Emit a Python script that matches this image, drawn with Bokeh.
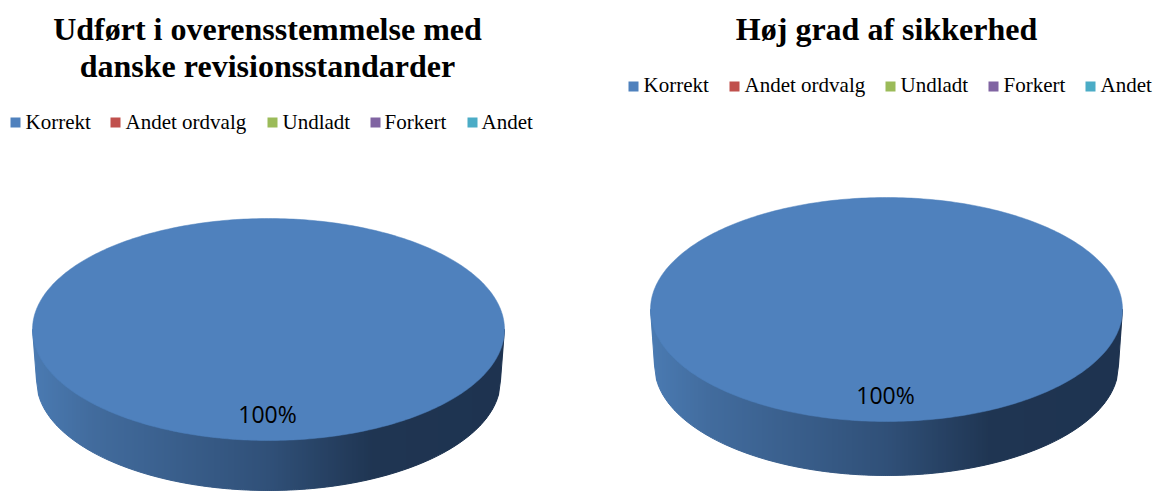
import numpy as np
from bokeh.core.properties import value
from bokeh.embed import file_html
from bokeh.layouts import row
from bokeh.models import Range1d
from bokeh.plotting import figure
from bokeh.resources import INLINE

categories = ["Korrekt", "Andet ordvalg", "Undladt", "Forkert", "Andet"]
values_left = [100, 0, 0, 0, 0]
values_right = [100, 0, 0, 0, 0]
colors = ["#4F81BD", "#C0504D", "#9BBB59", "#8064A2", "#4BACC6"]
title_left = ["Udført i overensstemmelse med", "danske revisionsstandarder"]
title_right = ["Høj grad af sikkerhed"]

SERIF = "Liberation Serif"
grad_pos = [0.0, 0.12, 0.5, 0.72, 1.0]
grad_rgb = np.array([[74, 122, 178], [66, 108, 158], [48, 80, 120], [31, 53, 82], [30, 51, 80]], dtype=float)


def shade(f):
    c = [int(round(np.interp(f, grad_pos, grad_rgb[:, k]))) for k in range(3)]
    return "#%02x%02x%02x" % tuple(c)


def panel(vals, titles, title_x, title_y, title_step, legend_sq_x, legend_txt_x, legend_y, legend_sq_y,
          cx, cy, rx, ry, cy2, rx2, ry2, label_x, label_y, x0, x1):
    p = figure(width=x1 - x0, height=491, x_range=Range1d(x0, x1), y_range=Range1d(491, 0),
               output_backend="svg", toolbar_location=None, min_border=0,
               outline_line_color=None, background_fill_color="white", border_fill_color="white")
    p.axis.visible = False
    p.grid.visible = False

    # titles
    p.text(x=[title_x] * len(titles), y=[title_y + i * title_step for i in range(len(titles))], text=titles,
           text_font=value(SERIF), text_font_style="bold", text_font_size="32px",
           text_align="center", text_baseline="alphabetic", text_color="#000000")

    # legend
    p.rect(x=[v + 5 for v in legend_sq_x], y=[legend_sq_y] * 5, width=10, height=10,
           fill_color=colors, line_color=None)
    p.text(x=legend_txt_x, y=[legend_y] * 5, text=categories, text_font=value(SERIF),
           text_font_size="21px", text_align="left", text_baseline="alphabetic", text_color="#000000")

    # side wall, vertical strips with a shaded gradient
    xs, ys, cols = [], [], []
    left, right = cx - rx, cx + rx
    edges = np.arange(left, right + 2, 2.0)

    def lower(x):
        if abs(x - cx) >= rx2:
            t = (rx - abs(x - cx)) / max(rx - rx2, 1e-6)
            return cy + (cy2 - cy) * np.clip(t, 0, 1)
        return cy2 + ry2 * np.sqrt(1 - ((x - cx) / rx2) ** 2)

    for a, b in zip(edges[:-1], edges[1:]):
        b = min(b, right)
        xs.append([a, b, b, a])
        ys.append([cy, cy, lower(b), lower(a)])
        cols.append(shade((a - left) / (2 * rx)))
    p.patches(xs, ys, fill_color=cols, line_color=cols, line_width=1)

    # top face, one slice per non-zero share
    total = sum(vals)
    start = 0.0
    for v, c in zip(vals, colors):
        if v <= 0:
            continue
        t = np.linspace(start, start + 2 * np.pi * v / total, 361)
        p.patch(cx + rx * np.sin(t), cy - ry * np.cos(t), fill_color=c, line_color=c, line_width=0.5)
        start += 2 * np.pi * v / total

    # value label
    p.text(x=[label_x], y=[label_y], text=["%d%%" % round(100 * vals[0] / total)], text_font=value("Open Sans"),
           text_font_size="23px", text_align="center", text_baseline="alphabetic", text_color="#000000")
    return p


left_panel = panel(values_left, title_left, 267, 28, 37,
                   [10, 110, 267, 370, 467], [25, 125, 282, 384, 481], 121, 122,
                   268, 329, 236, 111, 380, 232, 110, 267, 413, 0, 577)
right_panel = panel(values_right, title_right, 886, 28, 37,
                    [628, 729, 885, 988, 1085], [643, 744, 900, 1003, 1100], 84, 86,
                    886, 309, 236, 112, 365, 232, 110, 885, 394, 577, 1154)

page = row(left_panel, right_panel)
open("out.html", "w").write(file_html(page, INLINE))
